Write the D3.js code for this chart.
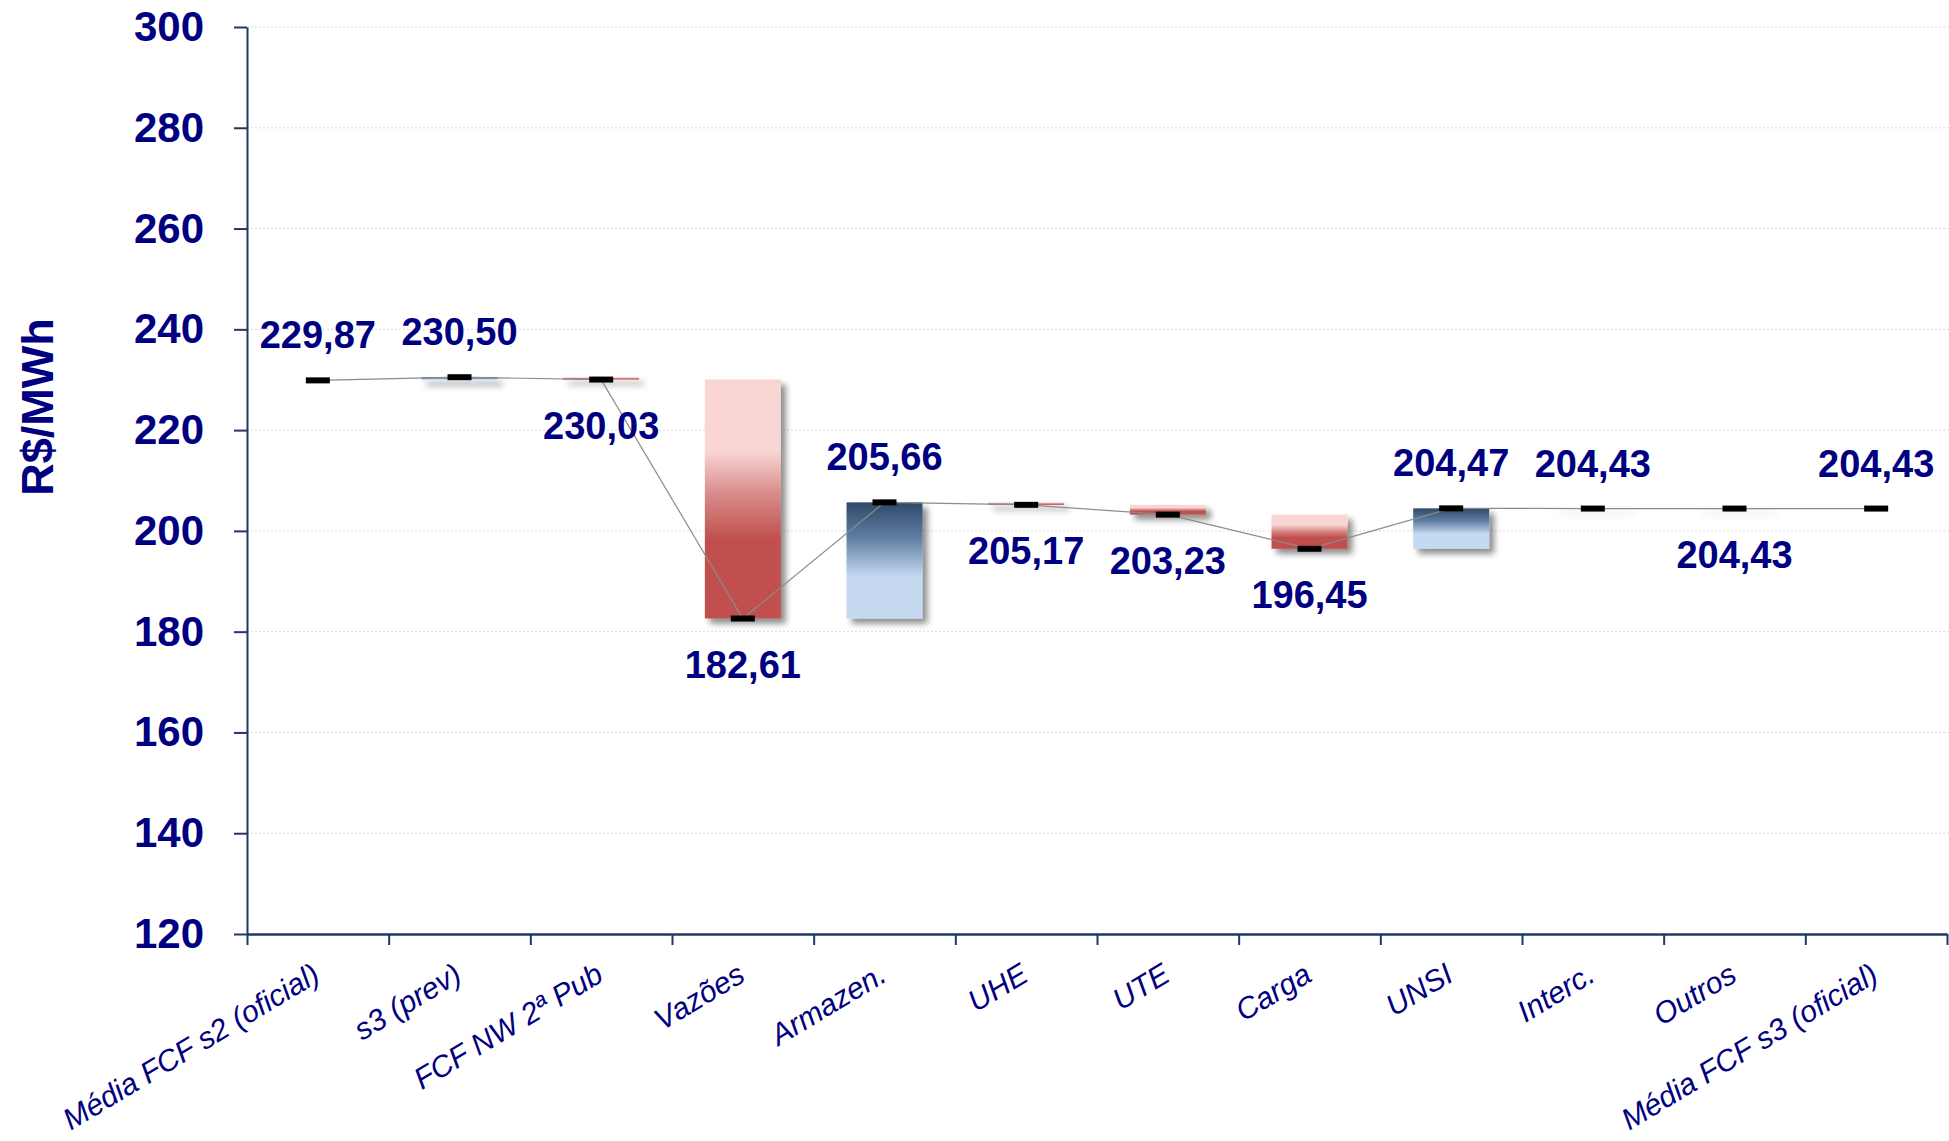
<!DOCTYPE html>
<html>
<head>
<meta charset="utf-8">
<script src="https://cdn.jsdelivr.net/npm/d3@7"></script>
<style>
  body { margin: 0; background: #fff; }
  svg { display: block; font-family: "Liberation Sans", Arial, sans-serif; }
</style>
</head>
<body>
<div id="chart"></div>
<script>
// Data
const categories = ["Média FCF s2 (oficial)", "s3 (prev)", "FCF NW 2ª Pub", "Vazões", "Armazen.",
    "UHE", "UTE", "Carga", "UNSI", "Interc.", "Outros", "Média FCF s3 (oficial)"];
const values = [229.87, 230.50, 230.03, 182.61, 205.66, 205.17, 203.23, 196.45, 204.47, 204.43, 204.43, 204.43];
const label_side = ["above", "above", "below", "below", "above", "below", "below", "below", "above", "above", "below", "above"];
const y_ticks = [120, 140, 160, 180, 200, 220, 240, 260, 280, 300];

const chart_width = 1949;
const chart_height = 1141;
const plot_left = 247, plot_right = 1947, plot_top = 27, plot_bottom = 934;
const navy = "#000080";
const axis_col = "#1f3864";

const pt = d3.formatLocale({decimal: ",", thousands: ".", grouping: [3], currency: ["R$", ""]});
const fmt = pt.format(".2f");

// Scales
const x_scale = d3.scaleBand().domain(categories).range([plot_left, plot_right]);
const x_edges = d3.scaleLinear().domain([0, categories.length]).range([plot_left, plot_right]);
const y_scale = d3.scaleLinear().domain([120, 300]).range([plot_bottom, plot_top]);
const bar_w = x_scale.bandwidth() * 0.536;
const cx = d => x_scale(d) + x_scale.bandwidth() / 2;

// SVG
const svg = d3.select("#chart").append("svg")
    .attr("width", chart_width)
    .attr("height", chart_height);

const defs = svg.append("defs");

const red_grad = defs.append("linearGradient").attr("id", "grad-down")
    .attr("x1", 0).attr("y1", 0).attr("x2", 0).attr("y2", 1);
[[0, "#f9d5d4"], [0.30, "#f9d6d5"], [0.34, "#f1c5c4"], [0.47, "#d98f8d"], [0.67, "#c0504d"], [1, "#c0504d"]]
    .forEach(s => red_grad.append("stop").attr("offset", s[0]).attr("stop-color", s[1]));

const blue_grad = defs.append("linearGradient").attr("id", "grad-up")
    .attr("x1", 0).attr("y1", 0).attr("x2", 0).attr("y2", 1);
[[0, "#2e4969"], [0.3, "#5f7ca2"], [0.64, "#c5d9f1"], [1, "#c5d9f1"]]
    .forEach(s => blue_grad.append("stop").attr("offset", s[0]).attr("stop-color", s[1]));

const shadow = defs.append("filter").attr("id", "shadow")
    .attr("x", -10).attr("y", -10).attr("width", 2000).attr("height", 2000)
    .attr("filterUnits", "userSpaceOnUse");
shadow.append("feDropShadow")
    .attr("dx", 5).attr("dy", 5).attr("stdDeviation", 3)
    .attr("flood-color", "#000").attr("flood-opacity", 0.45);

// Gridlines
svg.append("g")
    .selectAll("line")
    .data(y_ticks.filter(d => d > 120))
    .join("line")
    .attr("x1", plot_left).attr("x2", chart_width)
    .attr("y1", d => y_scale(d)).attr("y2", d => y_scale(d))
    .attr("stroke", "#d9d9d9")
    .attr("stroke-width", 1)
    .attr("stroke-dasharray", "2,2");

// Y axis
const y_axis = d3.axisLeft(y_scale)
    .tickValues(y_ticks)
    .tickSize(13)
    .tickSizeOuter(0)
    .tickPadding(30)
    .tickFormat(d3.format("d"));

const gy = svg.append("g")
    .attr("transform", `translate(${plot_left},0)`)
    .call(y_axis);
gy.select(".domain").attr("stroke", axis_col).attr("stroke-width", 2);
gy.selectAll(".tick line").attr("stroke", axis_col).attr("stroke-width", 2);
gy.selectAll(".tick text")
    .attr("fill", navy)
    .attr("font-size", 42)
    .attr("font-weight", "bold")
    .attr("font-family", "'Liberation Sans', Arial, sans-serif");

// X axis (ticks between categories)
const x_axis = d3.axisBottom(x_edges)
    .ticks(categories.length)
    .tickSize(11)
    .tickSizeOuter(0)
    .tickFormat("");

const gx = svg.append("g")
    .attr("transform", `translate(0,${plot_bottom})`)
    .call(x_axis);
gx.select(".domain").attr("stroke", axis_col).attr("stroke-width", 2.5);
gx.selectAll(".tick line").attr("stroke", axis_col).attr("stroke-width", 2);

svg.append("g")
    .selectAll("text")
    .data(categories)
    .join("text")
    .attr("transform", d => `translate(${cx(d) + 4},${plot_bottom + 46}) rotate(-31)`)
    .attr("text-anchor", "end")
    .attr("font-size", 30)
    .attr("font-style", "italic")
    .attr("fill", navy)
    .text(d => d);

// Y axis title
svg.append("text")
    .attr("transform", "translate(53,407) rotate(-90)")
    .attr("text-anchor", "middle")
    .attr("font-size", 45)
    .attr("font-weight", "bold")
    .attr("fill", navy)
    .text("R$/MWh");

// Bars (changes between consecutive values)
const steps = categories.map((c, i) => ({
    cat: c,
    from: i === 0 ? values[i] : values[i - 1],
    to: values[i],
    total: i === 0 || i === categories.length - 1
})).filter(d => !d.total);

svg.append("g")
    .selectAll("rect")
    .data(steps)
    .join("rect")
    .attr("x", d => cx(d.cat) - bar_w / 2)
    .attr("width", bar_w)
    .attr("y", d => y_scale(Math.max(d.from, d.to)))
    .attr("height", d => Math.max(0.5, Math.abs(y_scale(d.from) - y_scale(d.to))))
    .attr("fill", d => d.to >= d.from ? "url(#grad-up)" : "url(#grad-down)")
    .attr("filter", "url(#shadow)");

// Connecting line
const line = d3.line()
    .x((d, i) => cx(categories[i]))
    .y(d => y_scale(d));

svg.append("path")
    .datum(values)
    .attr("fill", "none")
    .attr("stroke", "#8c8c8c")
    .attr("stroke-width", 1.2)
    .attr("d", line);

// Markers
svg.append("g")
    .selectAll("rect")
    .data(values)
    .join("rect")
    .attr("x", (d, i) => cx(categories[i]) - 12)
    .attr("y", d => y_scale(d) - 3)
    .attr("width", 24)
    .attr("height", 6)
    .attr("fill", "#000");

// Value labels
svg.append("g")
    .selectAll("text")
    .data(values)
    .join("text")
    .attr("x", (d, i) => cx(categories[i]))
    .attr("y", (d, i) => y_scale(d) + (label_side[i] === "above" ? -32 : 59))
    .attr("text-anchor", "middle")
    .attr("font-size", 38)
    .attr("font-weight", "bold")
    .attr("fill", navy)
    .text(d => fmt(d));
</script>
</body>
</html>
